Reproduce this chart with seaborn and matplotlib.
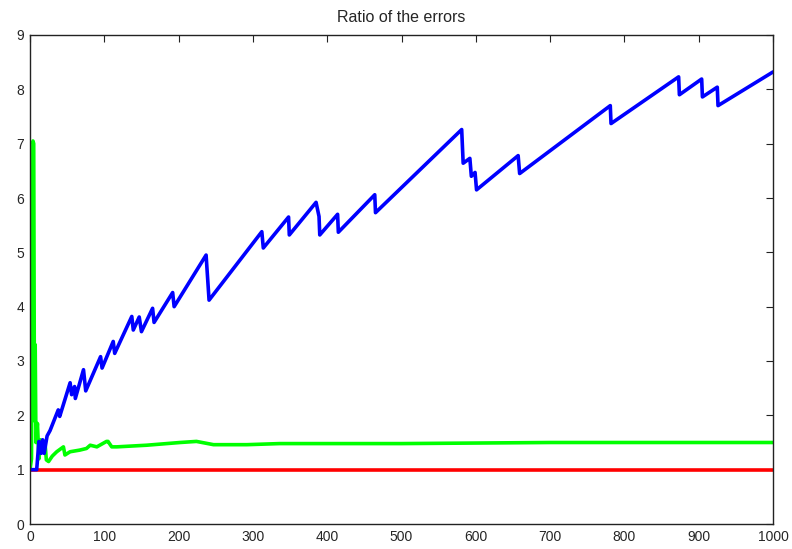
import matplotlib
matplotlib.use("Agg")
import matplotlib.pyplot as plt
import seaborn as sns
import pandas as pd

# ---- data ----
blue_x = [0, 9, 12, 15, 17, 19, 23, 27, 38, 40, 54, 56, 60, 61, 72, 75, 95, 97,
          112, 114, 137, 139, 147, 150, 165, 167, 192, 194, 237, 241, 312, 314,
          348, 349, 385, 389, 390, 414, 415, 464, 465, 581, 583, 592, 594, 599,
          601, 657, 659, 781, 782, 873, 874, 904, 905, 925, 926, 1000]
blue_y = [1.0, 1.0, 1.52, 1.30, 1.55, 1.30, 1.62, 1.72, 2.10, 1.98, 2.60, 2.38,
          2.53, 2.31, 2.84, 2.45, 3.08, 2.87, 3.36, 3.14, 3.82, 3.57, 3.81, 3.54,
          3.97, 3.71, 4.26, 4.00, 4.95, 4.12, 5.38, 5.08, 5.65, 5.32, 5.92, 5.66,
          5.32, 5.70, 5.37, 6.06, 5.73, 7.26, 6.64, 6.73, 6.40, 6.47, 6.15, 6.78,
          6.45, 7.70, 7.37, 8.23, 7.90, 8.19, 7.86, 8.04, 7.70, 8.32]

green_x = [0, 2, 4, 5, 6, 7, 8, 10, 12, 14, 18, 20, 22, 25, 30, 36, 45, 47, 54,
           67, 76, 81, 90, 103, 105, 110, 117, 157, 202, 224, 247, 292, 336,
           500, 700, 1000]
green_y = [1.0, 1.2, 7.05, 7.0, 1.9, 3.3, 1.5, 1.85, 1.2, 1.55, 1.33, 1.52,
           1.18, 1.15, 1.25, 1.33, 1.42, 1.27, 1.33, 1.36, 1.39, 1.45, 1.42,
           1.52, 1.52, 1.42, 1.42, 1.45, 1.50, 1.52, 1.46, 1.46, 1.48, 1.48,
           1.50, 1.50]

red_x = [0, 1000]
red_y = [1.0, 1.0]

x_ticks = list(range(0, 1001, 100))
y_ticks = list(range(0, 10))
title = "Ratio of the errors"

# ---- plot ----
sns.set_style("white")
plt.rcParams["font.family"] = ["Liberation Sans", "DejaVu Sans"]

fig = plt.figure(figsize=(7.92, 5.49), dpi=100)
ax = fig.add_axes([30 / 792, 25 / 549, 743 / 792, 489 / 549])

lw = 2.6
sns.lineplot(x=red_x, y=red_y, ax=ax, color="#ff0000", linewidth=lw,
             sort=False, estimator=None)
sns.lineplot(x=green_x, y=green_y, ax=ax, color="#00ff00", linewidth=lw,
             sort=False, estimator=None)
sns.lineplot(x=blue_x, y=blue_y, ax=ax, color="#0000ff", linewidth=lw,
             sort=False, estimator=None)

ax.set_xlim(0, 1000)
ax.set_ylim(0, 9)
ax.set_xticks(x_ticks)
ax.set_yticks(y_ticks)
ax.set_xticklabels([str(v) for v in x_ticks])
ax.set_yticklabels([str(v) for v in y_ticks])
ax.tick_params(direction="in", length=5, width=0.8, color="#222222",
               top=True, right=True, labelsize=10, pad=4)
for s in ax.spines.values():
    s.set_visible(True)
    s.set_color("#222222")
    s.set_linewidth(1.0)
ax.set_title(title, fontsize=11.5, pad=9)
ax.grid(False)

fig.savefig("out.png", dpi=100)
